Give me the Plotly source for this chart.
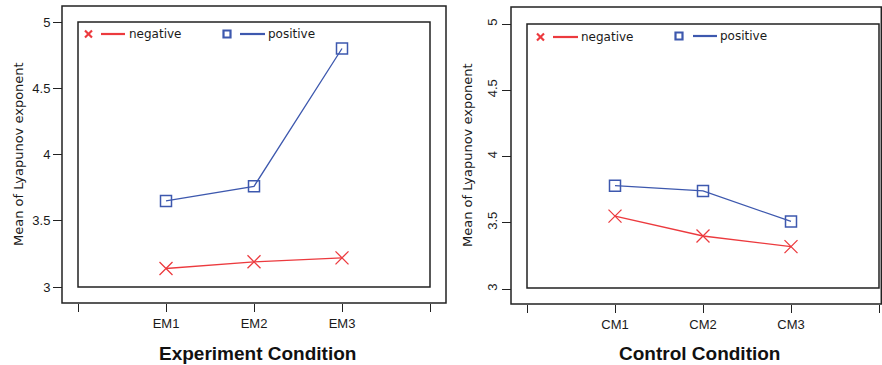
import plotly.graph_objects as go

W, H = 882, 365

# ---- data ----
exp_categories = ["EM1", "EM2", "EM3"]
ctrl_categories = ["CM1", "CM2", "CM3"]
exp_negative = [3.14, 3.19, 3.22]
exp_positive = [3.65, 3.76, 4.80]
ctrl_negative = [3.55, 3.40, 3.32]
ctrl_positive = [3.78, 3.74, 3.51]
y_ticks = [3, 3.5, 4, 4.5, 5]
y_tick_labels = ["3", "3.5", "4", "4.5", "5"]
series_names = ["negative", "positive"]

RED = "#ec3a3e"
BLUE = "#3d58ae"
FONT = "Liberation Sans, Arial, sans-serif"


def px(x):
    return x / W


def py(y):
    return 1 - y / H


fig = go.Figure()

panels = [
    dict(cats=exp_categories, neg=exp_negative, pos=exp_positive, xa="x", ya="y"),
    dict(cats=ctrl_categories, neg=ctrl_negative, pos=ctrl_positive, xa="x2", ya="y2"),
]
for p in panels:
    xs = list(range(1, len(p["cats"]) + 1))
    fig.add_trace(go.Scatter(
        x=xs, y=p["neg"], name=series_names[0], mode="lines+markers",
        line=dict(color=RED, width=1.4),
        marker=dict(symbol="x-thin-open", size=13, line=dict(color=RED, width=1.3), color=RED),
        xaxis=p["xa"], yaxis=p["ya"], showlegend=False,
    ))
    fig.add_trace(go.Scatter(
        x=xs, y=p["pos"], name=series_names[1], mode="lines+markers",
        line=dict(color=BLUE, width=1.3),
        marker=dict(symbol="square-open", size=11, line=dict(color=BLUE, width=1.5), color=BLUE),
        xaxis=p["xa"], yaxis=p["ya"], showlegend=False,
    ))

common_x = dict(range=[0, 4], anchor="free", showgrid=False, zeroline=False, showline=False,
                automargin=False,
                ticks="outside", ticklen=8, tickcolor="#222", tickwidth=1.2,
                tickfont=dict(family=FONT, size=13, color="#1a1a1a"))
common_y = dict(range=[3, 5], anchor="free", showgrid=False, zeroline=False, showline=False,
                automargin=False,
                ticks="outside", ticklen=9, tickcolor="#222", tickwidth=1.2,
                tickvals=y_ticks, ticktext=y_tick_labels,
                tickfont=dict(family=FONT, size=13, color="#1a1a1a"))

fig.update_layout(
    width=W, height=H,
    margin=dict(l=0, r=0, t=0, b=0, pad=0, autoexpand=False),
    paper_bgcolor="white", plot_bgcolor="rgba(0,0,0,0)",
    font=dict(family=FONT, color="#222"),
    xaxis=dict(common_x, domain=[px(78), px(430)], position=py(303),
               tickvals=[0, 1, 2, 3, 4], ticktext=[""] + exp_categories + [""]),
    yaxis=dict(common_y, domain=[py(287), py(22)], position=px(62)),
    xaxis2=dict(common_x, domain=[px(527), px(879)], position=py(304),
                tickvals=[0, 1, 2, 3, 4], ticktext=[""] + ctrl_categories + [""]),
    yaxis2=dict(common_y, domain=[py(289), py(24)], position=px(511), tickangle=-90),
    showlegend=False,
)

frame = dict(color="#222", width=1.5)
shapes = []
for (x0, y0, x1, y1) in [(62, 6, 446, 303), (78, 22, 430, 287), (511, 7, 881.3, 304), (527, 24, 879, 288)]:
    shapes.append(dict(type="rect", xref="paper", yref="paper",
                       x0=px(x0), x1=px(x1), y0=py(y1), y1=py(y0), line=frame, layer="above"))

annotations = [
    dict(text="<b>Experiment Condition</b>", x=px(257), y=py(353)),
    dict(text="<b>Control Condition</b>", x=px(699), y=py(353)),
]
for a in annotations:
    a.update(xref="paper", yref="paper", xanchor="center", yanchor="middle",
             showarrow=False, font=dict(family=FONT, size=19, color="#111"))
for (x, y) in [(18, 154), (468, 155)]:
    annotations.append(dict(text="Mean of Lyapunov exponent", x=px(x), y=py(y), xref="paper", yref="paper",
                            xanchor="center", yanchor="middle", textangle=-90, showarrow=False,
                            font=dict(family="DejaVu Sans, sans-serif", size=13, color="#1a1a1a")))

# custom legends (marker, line, label) per panel
legend_specs = [
    # (x marker center, y, line x0, line x1, text x, color, kind, label)
    (88.5, 34, 101, 125, 127, RED, "x", series_names[0]),
    (227, 34, 240, 265, 266, BLUE, "sq", series_names[1]),
    (540.5, 37, 553, 578, 579, RED, "x", series_names[0]),
    (679, 36, 693, 717, 718, BLUE, "sq", series_names[1]),
]
for (mx, my, l0, l1, tx, col, kind, label) in legend_specs:
    if kind == "x":
        for (dx0, dy0, dx1, dy1) in [(-3.5, -3.5, 3.5, 3.5), (-3.5, 3.5, 3.5, -3.5)]:
            shapes.append(dict(type="line", xref="paper", yref="paper",
                               x0=px(mx + dx0), y0=py(my + dy0), x1=px(mx + dx1), y1=py(my + dy1),
                               line=dict(color=col, width=2.2)))
    else:
        shapes.append(dict(type="rect", xref="paper", yref="paper",
                           x0=px(mx - 3.5), y0=py(my + 3.5), x1=px(mx + 3.5), y1=py(my - 3.5),
                           line=dict(color=col, width=2.2)))
    shapes.append(dict(type="line", xref="paper", yref="paper",
                       x0=px(l0), y0=py(my), x1=px(l1), y1=py(my),
                       line=dict(color=col, width=2.2)))
    annotations.append(dict(text=label, x=px(tx), y=py(my), xref="paper", yref="paper",
                            xanchor="left", yanchor="middle", showarrow=False,
                            font=dict(family="DejaVu Sans, sans-serif", size=12, color="#1a1a1a")))

fig.update_layout(shapes=shapes, annotations=annotations)

post = (
    "var s=document.createElement('style');"
    "s.textContent='html,body{margin:0;padding:0;overflow:hidden;height:365px;width:882px;}';"
    "document.head.appendChild(s);"
)
fig.write_html("out.html", config={"responsive": False, "displayModeBar": False},
               post_script=post)
